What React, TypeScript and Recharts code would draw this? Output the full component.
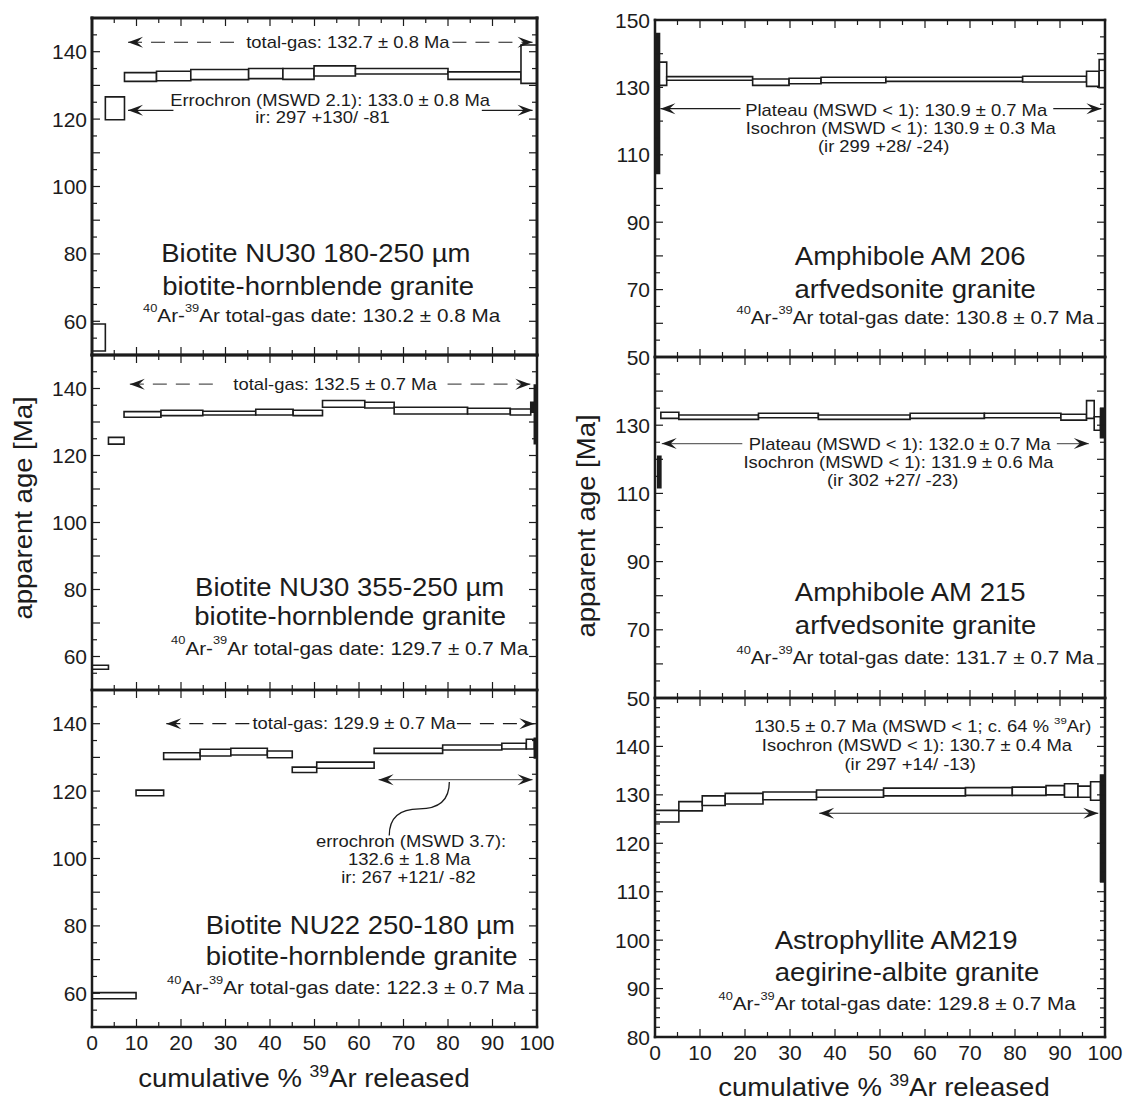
import React from 'react'
import { ComposedChart, XAxis, YAxis, Scatter, ReferenceArea, ReferenceLine, ReferenceDot } from 'recharts'

const FONT = '"Liberation Sans", Arial, Helvetica, sans-serif'
const INK = '#1c1c1c'

// step boundaries (cumulative % 39Ar) and the age envelope of every step (Ma)
const nu30aEdges = [0, 3.0, 7.3, 14.5, 22.2, 35.2, 42.9, 49.9, 59.2, 80.0, 96.4, 100]
const nu30aLow = [51.2, 119.8, 131.2, 131.4, 131.7, 132.0, 131.8, 132.8, 133.4, 131.8, 130.6]
const nu30aHigh = [59.2, 126.6, 133.8, 134.2, 134.7, 135.0, 135.0, 135.8, 135.0, 134.0, 142.0]

const nu30bEdges = [0, 3.7, 7.2, 15.5, 24.9, 36.8, 45.2, 51.8, 61.3, 67.9, 84.4, 94.0, 98.6, 99.4, 100]
const nu30bLow = [56.2, 123.4, 131.4, 131.9, 132.1, 132.1, 131.9, 134.4, 134.2, 132.4, 132.4, 132.1, 132.9, 123.5]
const nu30bHigh = [57.4, 125.4, 133.1, 133.5, 133.2, 133.8, 133.5, 136.4, 135.9, 134.4, 134.1, 133.9, 135.9, 141.0]

const nu22Edges = [0, 9.9, 16.1, 24.3, 31.2, 39.4, 45.0, 50.5, 63.4, 78.8, 92.1, 97.6, 99.4, 100]
const nu22Low = [58.4, 118.6, 129.4, 130.4, 130.7, 129.9, 125.5, 126.8, 131.2, 132.2, 132.5, 132.5, 129.8]
const nu22High = [60.2, 120.3, 131.4, 132.4, 132.7, 131.9, 127.1, 128.6, 132.7, 133.7, 134.2, 135.4, 135.7]

const am206Edges = [0, 1.0, 2.6, 21.7, 29.8, 36.9, 51.3, 81.7, 95.9, 98.7, 100]
const am206Low = [104.5, 130.6, 132.1, 130.6, 131.1, 131.4, 131.8, 131.6, 130.3, 129.9]
const am206High = [146.0, 137.5, 133.2, 132.5, 132.7, 133.0, 133.0, 133.3, 134.8, 138.3]

const am215Edges = [0.6, 1.3, 5.3, 23.0, 36.3, 56.7, 73.2, 90.2, 95.9, 97.6, 99.0, 100]
const am215Low = [111.7, 132.0, 131.7, 132.2, 131.7, 132.0, 132.2, 131.5, 132.0, 128.5, 126.3]
const am215High = [120.9, 133.8, 133.0, 133.5, 133.0, 133.5, 133.5, 133.2, 137.2, 132.5, 134.9]

const am219Edges = [0, 5.3, 10.5, 15.6, 24.0, 35.9, 50.8, 69.0, 79.4, 86.9, 91.0, 94.0, 96.8, 99.0, 100]
const am219Low = [124.4, 126.7, 127.8, 128.1, 129.0, 129.5, 129.8, 129.9, 129.9, 130.0, 129.5, 129.5, 128.9, 112.1]
const am219High = [126.8, 128.6, 129.8, 130.3, 130.6, 131.0, 131.4, 131.5, 131.6, 131.9, 132.3, 131.8, 132.7, 134.1]

// axes
const xTicks = [0, 5, 10, 15, 20, 25, 30, 35, 40, 45, 50, 55, 60, 65, 70, 75, 80, 85, 90, 95, 100]
const yTicks5 = [50, 55, 60, 65, 70, 75, 80, 85, 90, 95, 100, 105, 110, 115, 120, 125, 130, 135, 140, 145, 150]
const yTicks2 = [80, 82, 84, 86, 88, 90, 92, 94, 96, 98, 100, 102, 104, 106, 108, 110, 112, 114, 116, 118, 120,
  122, 124, 126, 128, 130, 132, 134, 136, 138, 140, 142, 144, 146, 148, 150]
const biotiteLabels = [60, 80, 100, 120, 140]
const am206Labels = [50, 70, 90, 110, 130, 150]
const am215Labels = [50, 70, 90, 110, 130]
const am219Labels = [80, 90, 100, 110, 120, 130, 140]

interface Step { x0: number; x1: number; lo: number; hi: number }
interface Note { x: number; y: number; text: string; kind: 'note' | 'title' | 'date' }
interface Arrow { y: number; x1: number; x2: number; gap?: [number, number]; dash?: string; color?: string }

const toSteps = (edges: number[], low: number[], high: number[]): Step[] =>
  low.map((lo, i) => ({ x0: edges[i], x1: edges[i + 1], lo, hi: high[i] }))

// the original lettering is a little wider than Liberation Sans, so stretch it horizontally
const TEXT_STYLE = {
  note: { size: 16, sx: 1.15 },
  title: { size: 25, sx: 1.1 },
  date: { size: 18, sx: 1.15 },
}

// text with ^{..} superscripts
function RichText({ x, y, text, kind }: { x: number; y: number; text: string; kind: Note['kind'] }) {
  const { size, sx } = TEXT_STYLE[kind]
  const parts = text.split(/(\^\{[^}]*\})/).filter(Boolean)
  let raised = false
  return (
    <text transform={`translate(${x},${y}) scale(${sx},1)`} x={0} y={0} textAnchor="middle" dominantBaseline="central"
      fontSize={size} fontFamily={FONT} fill={INK}>
      {parts.map((p, i) => {
        const m = p.match(/^\^\{(.*)\}$/)
        if (m) {
          const dy = raised ? 0 : -size * 0.42
          raised = true
          return <tspan key={i} dy={dy} fontSize={size * 0.62}>{m[1]}</tspan>
        }
        const dy = raised ? size * 0.42 : 0
        raised = false
        return <tspan key={i} dy={dy}>{p}</tspan>
      })}
    </text>
  )
}

const headPath = (tx: number, ty: number, dir: number) => {
  const L = 15, W = 5.5
  const bx = tx - dir * L
  return `M${tx},${ty} L${bx},${ty - W} L${tx - dir * L * 0.6},${ty} L${bx},${ty + W} Z`
}

const arrowShape = (head: 'start' | 'end' | 'both', dash?: string, color = INK) => (p: any) => {
  const { x1, y1, x2, y2 } = p
  const a = Math.min(x1, x2), b = Math.max(x1, x2)
  return (
    <g>
      <line x1={a} y1={y1} x2={b} y2={y2} stroke={color} strokeWidth={1.2} strokeDasharray={dash} />
      {head !== 'end' && <path d={headPath(a, y1, -1)} fill={INK} />}
      {head !== 'start' && <path d={headPath(b, y1, 1)} fill={INK} />}
    </g>
  )
}

const curveShape = (p: any) => {
  const { x1, y1, x2, y2 } = p
  const xm = (x1 + x2) / 2, ym = (y1 + y2) / 2
  return <path d={`M${x1},${y1} Q${x1},${ym} ${xm},${ym} Q${x2},${ym} ${x2},${y2}`} fill="none" stroke={INK} strokeWidth={1.3} />
}

const PAD = 12
const PADR = 30
const TICK_FONT = 21

interface PanelProps {
  left: number; top: number; width: number; height: number
  yDomain: [number, number]; yTicks: number[]; yLabels: number[]
  steps: Step[]; arrows: Arrow[]; notes: Note[]
  curve?: [number, number, number, number]
  showX: boolean; frame: number
}

function Panel({ left, top, width, height, yDomain, yTicks, yLabels, steps, arrows, notes, curve, showX, frame }: PanelProps) {
  const bottom = showX ? 50 : PAD
  const axisLine = { stroke: INK, strokeWidth: frame, strokeLinecap: 'square' as const }
  const mids = steps.map((s) => ({ x: (s.x0 + s.x1) / 2, y: (s.lo + s.hi) / 2 }))

  const bottomTick = (p: any) => {
    const v = p.payload.value
    const major = v % 10 === 0
    return (
      <g>
        <line x1={p.x} x2={p.x} y1={p.y} y2={p.y - (major ? 8 : 5)} stroke={INK} strokeWidth={1.2} />
        {showX && major && (
          <text x={p.x} y={p.y + 23} textAnchor="middle" fontSize={TICK_FONT} fontFamily={FONT} fill={INK}>{v}</text>
        )}
      </g>
    )
  }
  const topTick = (p: any) => {
    const major = p.payload.value % 10 === 0
    return <line x1={p.x} x2={p.x} y1={p.y} y2={p.y + (major ? 8 : 5)} stroke={INK} strokeWidth={1.2} />
  }
  const leftTick = (p: any) => {
    const v = p.payload.value
    const major = v % 10 === 0
    return (
      <g>
        <line x1={p.x} x2={p.x + (major ? 8 : 5)} y1={p.y} y2={p.y} stroke={INK} strokeWidth={1.2} />
        {yLabels.includes(v) && (
          <text x={p.x - 5} y={p.y} textAnchor="end" dominantBaseline="central" fontSize={TICK_FONT} fontFamily={FONT} fill={INK}>{v}</text>
        )}
      </g>
    )
  }
  const rightTick = (p: any) => {
    const major = p.payload.value % 10 === 0
    return <line x1={p.x} x2={p.x - (major ? 8 : 5)} y1={p.y} y2={p.y} stroke={INK} strokeWidth={1.2} />
  }

  return (
    <div style={{ position: 'absolute', left: left - 70, top: top - PAD }}>
      <ComposedChart
        width={width + 70 + PADR}
        height={height + PAD + bottom}
        margin={{ top: PAD - 1, right: PADR - 1, bottom: 0, left: 0 }}
      >
        <XAxis dataKey="x" type="number" domain={[0, 100]} ticks={xTicks} interval={0} height={bottom}
          tickSize={0} tickMargin={0} tickLine={false} axisLine={axisLine} tick={bottomTick} allowDataOverflow />
        <XAxis xAxisId="top" dataKey="x" orientation="top" type="number" domain={[0, 100]} ticks={xTicks} interval={0} height={1}
          tickSize={0} tickMargin={0} tickLine={false} axisLine={axisLine} tick={topTick} allowDataOverflow />
        <YAxis dataKey="y" type="number" domain={yDomain} ticks={yTicks} interval={0} width={70}
          tickSize={0} tickMargin={0} tickLine={false} axisLine={axisLine} tick={leftTick} allowDataOverflow />
        <YAxis yAxisId="right" dataKey="y" orientation="right" type="number" domain={yDomain} ticks={yTicks} interval={0} width={1}
          tickSize={0} tickMargin={0} tickLine={false} axisLine={axisLine} tick={rightTick} allowDataOverflow />

        {steps.map((s, i) => (
          <ReferenceArea key={`s${i}`} x1={s.x0} x2={s.x1} y1={s.lo} y2={s.hi} ifOverflow="visible"
            fill={s.x1 - s.x0 <= 1 ? INK : '#ffffff'} fillOpacity={1} stroke={INK} strokeWidth={1.6} />
        ))}

        {arrows.map((a, i) =>
          a.gap ? (
            <React.Fragment key={`a${i}`}>
              <ReferenceLine segment={[{ x: a.x1, y: a.y }, { x: a.gap[0], y: a.y }]} ifOverflow="visible"
                shape={arrowShape('start', a.dash, a.color)} />
              <ReferenceLine segment={[{ x: a.gap[1], y: a.y }, { x: a.x2, y: a.y }]} ifOverflow="visible"
                shape={arrowShape('end', a.dash, a.color)} />
            </React.Fragment>
          ) : (
            <ReferenceLine key={`a${i}`} segment={[{ x: a.x1, y: a.y }, { x: a.x2, y: a.y }]} ifOverflow="visible"
              shape={arrowShape('both', a.dash, a.color)} />
          ),
        )}

        {curve && (
          <ReferenceLine segment={[{ x: curve[0], y: curve[1] }, { x: curve[2], y: curve[3] }]} ifOverflow="visible"
            shape={curveShape} />
        )}

        {notes.map((n, i) => (
          <ReferenceDot key={`n${i}`} x={n.x} y={n.y} r={0} ifOverflow="visible"
            shape={(p: any) => <RichText x={p.cx} y={p.cy} text={n.text} kind={n.kind} />} />
        ))}

        <Scatter data={mids} shape={() => <g />} isAnimationActive={false} />
        <Scatter data={mids} xAxisId="top" yAxisId="right" shape={() => <g />} isAnimationActive={false} />
      </ComposedChart>
    </div>
  )
}

const DASH = '14 9'

export default function App() {
  const title = {
    fontFamily: FONT, fontSize: 25, color: INK, position: 'absolute' as const, whiteSpace: 'nowrap' as const,
  }
  const sup = { fontSize: 16, verticalAlign: 'super', lineHeight: 0 }
  return (
    <div style={{ position: 'absolute', left: 0, top: 0, width: 1130, height: 1100, background: '#fff' }}>
      <Panel left={92} top={18} width={445} height={337} yDomain={[50, 150]} yTicks={yTicks5} yLabels={biotiteLabels}
        steps={toSteps(nu30aEdges, nu30aLow, nu30aHigh)} showX={false} frame={3}
        arrows={[
          { y: 142.8, x1: 8.1, x2: 99.0, gap: [32.2, 81.0], dash: DASH },
          { y: 122.6, x1: 8.1, x2: 99.0, gap: [18.3, 87.6] },
        ]}
        notes={[
          { x: 57.5, y: 142.8, text: 'total-gas: 132.7 ± 0.8 Ma', kind: 'note' },
          { x: 53.5, y: 125.6, text: 'Errochron (MSWD 2.1): 133.0 ± 0.8 Ma', kind: 'note' },
          { x: 51.8, y: 120.6, text: 'ir: 297 +130/ -81', kind: 'note' },
          { x: 50.3, y: 80.0, text: 'Biotite NU30 180-250 µm', kind: 'title' },
          { x: 50.8, y: 70.3, text: 'biotite-hornblende granite', kind: 'title' },
          { x: 51.6, y: 61.6, text: '^{40}Ar-^{39}Ar total-gas date: 130.2 ± 0.8 Ma', kind: 'date' },
        ]}
      />
      <Panel left={92} top={355} width={445} height={335} yDomain={[50, 150]} yTicks={yTicks5} yLabels={biotiteLabels}
        steps={toSteps(nu30bEdges, nu30bLow, nu30bHigh)} showX={false} frame={2.5}
        arrows={[{ y: 141.3, x1: 8.5, x2: 98.5, gap: [29.0, 79.9], dash: DASH, color: '#555' }]}
        notes={[
          { x: 54.6, y: 141.3, text: 'total-gas: 132.5 ± 0.7 Ma', kind: 'note' },
          { x: 57.9, y: 80.6, text: 'Biotite NU30 355-250 µm', kind: 'title' },
          { x: 58.0, y: 71.9, text: 'biotite-hornblende granite', kind: 'title' },
          { x: 57.9, y: 62.5, text: '^{40}Ar-^{39}Ar total-gas date: 129.7 ± 0.7 Ma', kind: 'date' },
        ]}
      />
      <Panel left={92} top={690} width={445} height={337} yDomain={[50, 150]} yTicks={yTicks5} yLabels={biotiteLabels}
        steps={toSteps(nu22Edges, nu22Low, nu22High)} showX={true} frame={2.5}
        arrows={[
          { y: 140.0, x1: 16.7, x2: 99.4, gap: [35.5, 82.0], dash: DASH },
          { y: 123.4, x1: 64.4, x2: 99.0, color: '#666' },
        ]}
        curve={[80.3, 122.7, 66.8, 106.8]}
        notes={[
          { x: 58.9, y: 140.0, text: 'total-gas: 129.9 ± 0.7 Ma', kind: 'note' },
          { x: 71.7, y: 105.1, text: 'errochron (MSWD 3.7):', kind: 'note' },
          { x: 71.3, y: 99.7, text: '132.6 ± 1.8 Ma', kind: 'note' },
          { x: 71.1, y: 94.4, text: 'ir: 267 +121/ -82', kind: 'note' },
          { x: 60.3, y: 80.2, text: 'Biotite NU22 250-180 µm', kind: 'title' },
          { x: 60.6, y: 71.0, text: 'biotite-hornblende granite', kind: 'title' },
          { x: 57.0, y: 61.6, text: '^{40}Ar-^{39}Ar total-gas date: 122.3 ± 0.7 Ma', kind: 'date' },
        ]}
      />

      <Panel left={655} top={20} width={450} height={337} yDomain={[50, 150]} yTicks={yTicks5} yLabels={am206Labels}
        steps={toSteps(am206Edges, am206Low, am206High)} showX={false} frame={2.5}
        arrows={[{ y: 123.7, x1: 1.2, x2: 99.2, gap: [19.0, 88.5] }]}
        notes={[
          { x: 53.6, y: 123.3, text: 'Plateau (MSWD < 1): 130.9 ± 0.7 Ma', kind: 'note' },
          { x: 54.6, y: 117.9, text: 'Isochron (MSWD < 1): 130.9 ± 0.3 Ma', kind: 'note' },
          { x: 50.8, y: 112.5, text: '(ir 299 +28/ -24)', kind: 'note' },
          { x: 56.7, y: 79.8, text: 'Amphibole AM 206', kind: 'title' },
          { x: 57.8, y: 70.0, text: 'arfvedsonite granite', kind: 'title' },
          { x: 57.8, y: 61.6, text: '^{40}Ar-^{39}Ar total-gas date: 130.8 ± 0.7 Ma', kind: 'date' },
        ]}
      />
      <Panel left={655} top={357} width={450} height={341} yDomain={[50, 150]} yTicks={yTicks5} yLabels={am215Labels}
        steps={toSteps(am215Edges, am215Low, am215High)} showX={false} frame={2.5}
        arrows={[{ y: 124.6, x1: 1.5, x2: 96.4, gap: [19.4, 89.3], color: '#666' }]}
        notes={[
          { x: 54.4, y: 124.5, text: 'Plateau (MSWD < 1): 132.0 ± 0.7 Ma', kind: 'note' },
          { x: 54.1, y: 119.1, text: 'Isochron (MSWD < 1): 131.9 ± 0.6 Ma', kind: 'note' },
          { x: 52.8, y: 113.7, text: '(ir 302 +27/ -23)', kind: 'note' },
          { x: 56.7, y: 81.1, text: 'Amphibole AM 215', kind: 'title' },
          { x: 57.9, y: 71.4, text: 'arfvedsonite granite', kind: 'title' },
          { x: 57.8, y: 61.8, text: '^{40}Ar-^{39}Ar total-gas date: 131.7 ± 0.7 Ma', kind: 'date' },
        ]}
      />
      <Panel left={655} top={698} width={450} height={339} yDomain={[80, 150]} yTicks={yTicks2} yLabels={am219Labels}
        steps={toSteps(am219Edges, am219Low, am219High)} showX={true} frame={2.5}
        arrows={[{ y: 126.2, x1: 36.5, x2: 98.5 }]}
        notes={[
          { x: 59.5, y: 144.1, text: '130.5 ± 0.7 Ma (MSWD < 1; c. 64 % ^{39}Ar)', kind: 'note' },
          { x: 58.2, y: 140.3, text: 'Isochron (MSWD < 1): 130.7 ± 0.4 Ma', kind: 'note' },
          { x: 56.7, y: 136.2, text: '(ir 297 +14/ -13)', kind: 'note' },
          { x: 53.6, y: 100.0, text: 'Astrophyllite AM219', kind: 'title' },
          { x: 56.0, y: 93.4, text: 'aegirine-albite granite', kind: 'title' },
          { x: 53.8, y: 86.9, text: '^{40}Ar-^{39}Ar total-gas date: 129.8 ± 0.7 Ma', kind: 'date' },
        ]}
      />

      <div style={{ ...title, left: 23, top: 508, transform: 'translate(-50%, -50%) rotate(-90deg) scaleX(1.1)' }}>apparent age [Ma]</div>
      <div style={{ ...title, left: 586, top: 526, transform: 'translate(-50%, -50%) rotate(-90deg) scaleX(1.1)' }}>apparent age [Ma]</div>
      <div style={{ ...title, left: 304, top: 1078, transform: 'translate(-50%, -50%) scaleX(1.1)' }}>
        cumulative % <span style={sup}>39</span>Ar released
      </div>
      <div style={{ ...title, left: 884, top: 1087, transform: 'translate(-50%, -50%) scaleX(1.1)' }}>
        cumulative % <span style={sup}>39</span>Ar released
      </div>
    </div>
  )
}
